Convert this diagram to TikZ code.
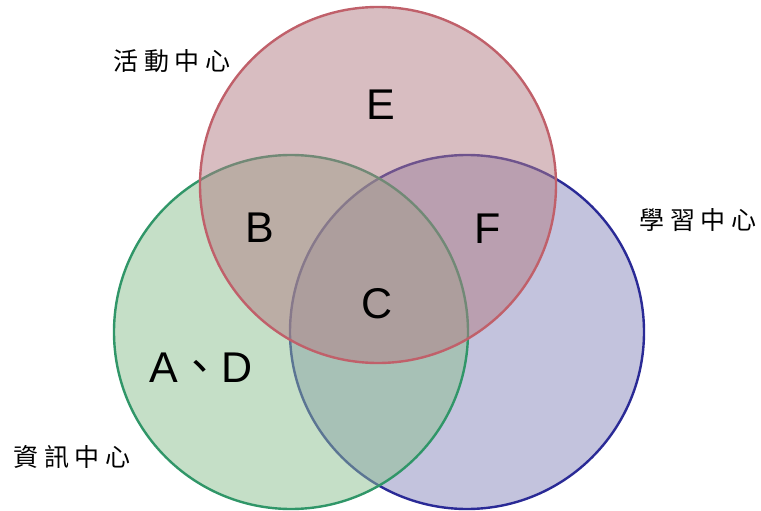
\documentclass[tikz,border=0pt]{standalone}
\usepackage{fontspec}
\setmainfont{Liberation Sans}
\newfontfamily\cjk{Noto Sans CJK TC}
\definecolor{redfill}{RGB}{179,125,133}
\definecolor{greenfill}{RGB}{141,193,145}
\definecolor{bluefill}{RGB}{137,137,189}
\definecolor{redline}{RGB}{192,96,106}
\definecolor{greenline}{RGB}{48,150,104}
\definecolor{blueline}{RGB}{42,42,150}
\tikzset{
  setc/.style={line width=2.4pt, fill opacity=0.5},
  letter/.style={font=\fontsize{43}{43}\selectfont, inner sep=0pt, anchor=center},
  cname/.style={font=\cjk\fontsize{25}{25}\selectfont, inner sep=0pt, anchor=center},
}
\newcommand{\cs}{\hspace{5.5pt}}
\begin{document}
\begin{tikzpicture}[x=1pt,y=-1pt]
\useasboundingbox (0,0) rectangle (761,511);
\fill[white] (0,0) rectangle (761,511);
\draw[setc, draw=blueline, fill=bluefill] (467,332) circle[radius=177];
\draw[setc, draw=greenline, fill=greenfill] (291,332) circle[radius=177];
\draw[setc, draw=redline, fill=redfill] (378,185) circle[radius=178];
\node[letter] (E) at (381,105) {E};
\node[letter] (B) at (260,228) {B};
\node[letter] (C) at (377,304) {C};
\node[letter] (F) at (488,229) {F};
\node[letter] (AD) at (201,368) {A{\cjk 、}D};
\node[cname] (act) at (172,61) {活\cs 動\cs 中\cs 心};
\node[cname] (learn) at (698,220) {學\cs 習\cs 中\cs 心};
\node[cname] (info) at (72,457) {資\cs 訊\cs 中\cs 心};
\end{tikzpicture}
\end{document}
